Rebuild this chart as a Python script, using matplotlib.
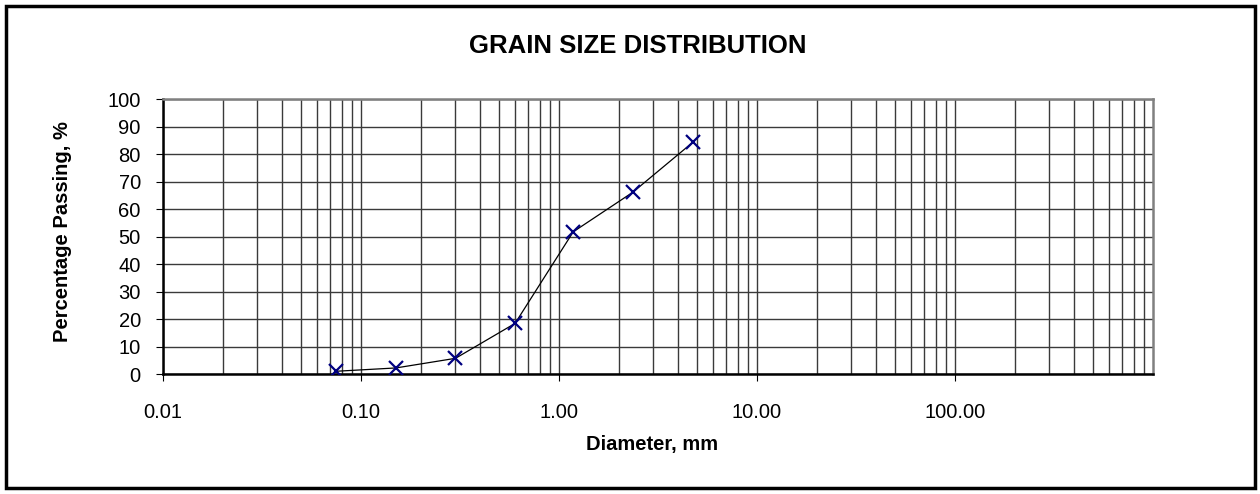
import matplotlib
matplotlib.use('Agg')
import matplotlib.pyplot as plt
from matplotlib.ticker import LogLocator, FixedLocator, FuncFormatter, NullFormatter
from matplotlib.patches import Rectangle

plt.rcParams['font.family'] = ['Liberation Sans', 'DejaVu Sans']

# sieve data
diameter = [0.075, 0.15, 0.3, 0.6, 1.18, 2.36, 4.75]
passing = [1.0, 2.2, 5.7, 18.4, 51.7, 66.1, 84.3]
xticks = [0.01, 0.1, 1, 10, 100]
yticks = list(range(0, 101, 10))

fig = plt.figure(figsize=(12.6, 4.94), dpi=100)
ax = fig.add_axes([163/1260, 1-374/494, (1153-163)/1260, (374-99)/494])

ax.plot(diameter, passing, color='black', lw=0.9, marker='x', ms=10,
        mec='#000080', mew=1.6, zorder=3)

ax.set_xscale('log')
ax.set_xlim(0.01, 1000)
ax.set_ylim(0, 100)
ax.xaxis.set_major_locator(FixedLocator(xticks))
ax.xaxis.set_major_formatter(FuncFormatter(lambda v, p: '%.2f' % v))
ax.xaxis.set_minor_locator(LogLocator(base=10, subs=range(2, 10), numticks=20))
ax.xaxis.set_minor_formatter(NullFormatter())
ax.set_yticks(yticks)

ax.grid(True, which='both', axis='x', color='#3a3a3a', lw=1.0)
ax.grid(True, which='major', axis='y', color='#3a3a3a', lw=1.0)
ax.tick_params(axis='x', which='major', direction='out', length=5, pad=16,
               labelsize=14.5)
ax.tick_params(axis='x', which='minor', length=0)
ax.tick_params(axis='y', direction='out', length=5, pad=11, labelsize=14.5)

for s in ['top', 'right']:
    ax.spines[s].set_color('#808080')
    ax.spines[s].set_linewidth(1.8)
for s in ['bottom', 'left']:
    ax.spines[s].set_color('black')
    ax.spines[s].set_linewidth(1.8)

fig.text(638/1260, 1-46/494, 'GRAIN SIZE DISTRIBUTION', ha='center', va='center',
         fontsize=18.5, fontweight='bold')
fig.text(652/1260, 1-444/494, 'Diameter, mm', ha='center', va='center',
         fontsize=14.5, fontweight='bold')
fig.text(63/1260, 1-232/494, 'Percentage Passing, %', ha='center', va='center',
         rotation=90, fontsize=14.5, fontweight='bold')

fig.patches.append(Rectangle((6/1260, 6/494), 1249/1260, 482/494,
                             transform=fig.transFigure, fill=False,
                             edgecolor='black', lw=2.5))

fig.savefig('out.png', dpi=100)
